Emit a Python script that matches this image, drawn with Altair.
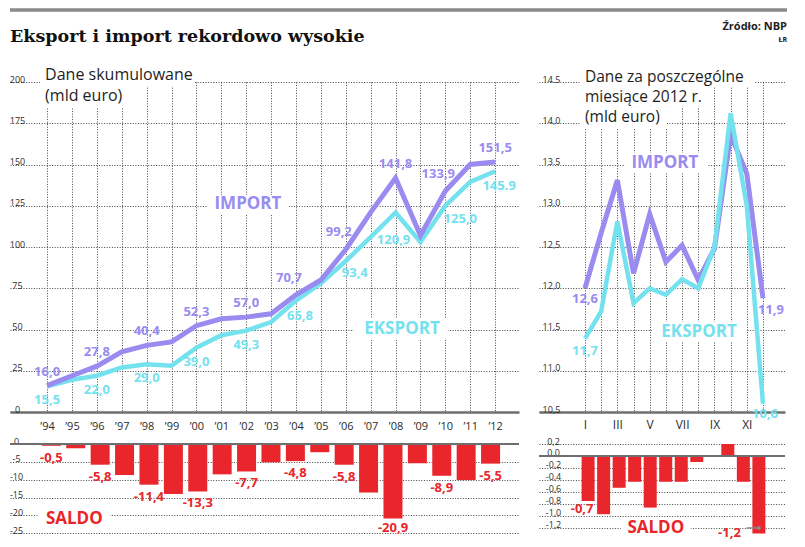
import json
import altair as alt
import pandas as pd

# ---------------- data ----------------
TITLE = "Eksport i import rekordowo wysokie"
SOURCE = "Źródło: NBP"
AUTHOR = "ŁR"
SUB_LEFT = ["Dane skumulowane", "(mld euro)"]
SUB_RIGHT = ["Dane za poszczególne", "miesiące 2012 r.", "(mld euro)"]
SERIES = ["IMPORT", "EKSPORT"]
SALDO_NAME = "SALDO"

YEARS = list(range(1994, 2013))
YEAR_LABELS = ["’94", "’95", "’96", "’97", "’98", "’99", "’00", "’01", "’02", "’03",
               "’04", "’05", "’06", "’07", "’08", "’09", "’10", "’11", "’12"]
IMPORT_CUM = [16.0, 22.0, 27.8, 36.5, 40.4, 42.5, 52.3, 56.5, 57.5, 59.5,
              71.0, 80.0, 98.5, 121.0, 141.8, 107.0, 133.9, 150.0, 151.5]
EXPORT_CUM = [15.5, 19.5, 22.0, 27.0, 29.0, 28.0, 39.0, 46.5, 49.3, 54.5,
              67.5, 78.0, 91.5, 106.0, 120.9, 103.0, 125.0, 139.5, 145.9]
SALDO_CUM = [-0.5, -1.2, -5.8, -8.7, -11.4, -14.0, -13.3, -8.5, -7.7, -5.1,
             -4.8, -2.3, -5.8, -13.6, -20.9, -5.4, -8.9, -10.1, -5.5]
IMPORT_CUM_TXT = ["16,0", None, "27,8", None, "40,4", None, "52,3", None, "57,0", None,
                  "70,7", None, "99,2", None, "141,8", None, "133,9", None, "151,5"]
EXPORT_CUM_TXT = ["15,5", None, "22,0", None, "29,0", None, "39,0", None, "49,3", None,
                  "65,8", None, "93,4", None, "120,9", None, "125,0", None, "145.9"]
SALDO_CUM_TXT = ["-0,5", None, "-5,8", None, "-11,4", None, "-13,3", None, "-7,7", None,
                 "-4,8", None, "-5,8", None, "-20,9", None, "-8,9", None, "-5,5"]

MONTH_NUM = list(range(1, 13))
MONTHS = ["I", "II", "III", "IV", "V", "VI", "VII", "VIII", "IX", "X", "XI", "XII"]
IMPORT_M = [12.0, 12.67, 13.31, 12.18, 12.9, 12.32, 12.52, 12.1, 12.48, 13.86, 13.39, 11.88]
EXPORT_M = [11.39, 11.72, 12.81, 11.82, 12.0, 11.92, 12.11, 12.0, 12.5, 14.12, 13.0, 10.6]
SALDO_M = [-0.75, -0.97, -0.53, -0.43, -0.86, -0.43, -0.43, -0.1, 0.0, 0.2, -0.43, -1.29]
IMPORT_M_TXT = ["12,6"] + [None] * 10 + ["11,9"]
EXPORT_M_TXT = ["11,7"] + [None] * 10 + ["10,6"]
SALDO_M_TXT = ["-0,7"] + [None] * 10 + ["-1,2"]

Y_LEFT_TICKS = [0, 25, 50, 75, 100, 125, 150, 175, 200]
Y_RIGHT_TICKS = [10.5, 11.0, 11.5, 12.0, 12.5, 13.0, 13.5, 14.0, 14.5]
Y_RIGHT_LABELS = ["10,5", "11,0", "11,5", "12,0", "12,5", "13,0", "13.5", "14,0", "14.5"]
SALDO_CUM_TICKS = [0, -5, -10, -15, -20, -25]
SALDO_CUM_LABELS = ["0", "-5", "-10", "-15", "-20", "-25"]
SALDO_M_TICKS = [0.2, 0.0, -0.2, -0.4, -0.6, -0.8, -1.0, -1.2]
SALDO_M_LABELS = ["0,2", "0,0", "-0,2", "-0,4", "-0,6", "-0,8", "-1,0", "-1,2"]

# ---------------- styles ----------------
FONT = "Open Sans"
PURPLE = "#998bef"
CYAN = "#74e1ee"
RED = "#e8262b"
GRIDC = "#474747"
AXISC = "#6e6e6e"
INK = "#2b2b2b"

WL, WR, H, HB = 509, 246, 330, 91

XL = alt.Scale(domain=[1992.51, 2012.96], nice=False, zero=False)
YL = alt.Scale(domain=[0, 200], nice=False, zero=False)
XR = alt.Scale(domain=[-1.84, 13.36], nice=False, zero=False)
YR = alt.Scale(domain=[10.5, 14.5], nice=False, zero=False)
YLB = alt.Scale(domain=[-25.5, 0], nice=False, zero=False)
YRB = alt.Scale(domain=[-1.317, 0.2], nice=False, zero=False)


def js(a):
    return json.dumps(a, ensure_ascii=False)


GRID = dict(grid=True, gridColor=GRIDC, gridDash=[1, 1.6], gridWidth=1)
COMMON = dict(ticks=False, tickSize=0, labelFlush=False, labelOverlap=False, title=None,
              labelFont=FONT, labelColor=INK)

ax_xl = alt.Axis(values=YEARS, domain=True, domainColor=AXISC, domainWidth=2.5, labelPadding=8,
                 labelFontSize=11, labelExpr=f"{js(YEAR_LABELS)}[datum.value - 1994]", **GRID, **COMMON)
ax_yl = alt.Axis(values=Y_LEFT_TICKS, domain=False, labelAlign="center", labelBaseline="alphabetic",
                 labelPadding=-7, labelFontSize=9, **GRID, **COMMON)
ax_xr = alt.Axis(values=MONTH_NUM, domain=True, domainColor=AXISC, domainWidth=2.5, labelPadding=7,
                 labelFontSize=12,
                 labelExpr=f"datum.value % 2 == 1 ? {js(MONTHS)}[datum.value - 1] : ''", **GRID, **COMMON)
ax_yr = alt.Axis(values=Y_RIGHT_TICKS, domain=False, labelAlign="center", labelBaseline="alphabetic",
                 labelPadding=-12, labelFontSize=9,
                 labelExpr=f"{js(Y_RIGHT_LABELS)}[round((datum.value - 10.5) * 2)]", **GRID, **COMMON)
ax_ylb = alt.Axis(values=SALDO_CUM_TICKS, domain=False, labelAlign="center", labelBaseline="alphabetic",
                  labelPadding=-6, labelFontSize=9,
                  labelExpr=f"{js(SALDO_CUM_LABELS)}[round(-datum.value / 5)]", **GRID, **COMMON)
ax_yrb = alt.Axis(values=SALDO_M_TICKS, domain=False, labelAlign="center", labelBaseline="alphabetic",
                  labelPadding=-14, labelFontSize=9,
                  labelExpr=f"{js(SALDO_M_LABELS)}[round((0.2 - datum.value) * 5)]", **GRID, **COMMON)


def xq(f, s, a):
    return alt.X(f, type="quantitative", scale=s, axis=a)


def yq(f, s, a):
    return alt.Y(f, type="quantitative", scale=s, axis=a)


def labels(df, xf, yf, tf, xs, ys, xa, ya, color, flt, dx=0, dy=0, size=13, weight="bold", align="center"):
    c = alt.Chart(df).mark_text(color=color, dx=dx, dy=dy, fontSize=size, fontWeight=weight,
                                font=FONT, align=align, baseline="middle")
    c = c.transform_filter(flt)
    return c.encode(x=xq(xf, xs, xa), y=yq(yf, ys, ya), text=alt.Text(tf, type="nominal"))


def inset(v, lst):
    return f"indexof({js(lst)}, {v}) >= 0"


ONE = pd.DataFrame({"a": [0]})

# ---------------- left: cumulative ----------------
dfL = pd.DataFrame({"year": YEARS, "imp": IMPORT_CUM, "exp": EXPORT_CUM, "saldo": SALDO_CUM,
                    "imp_txt": IMPORT_CUM_TXT, "exp_txt": EXPORT_CUM_TXT, "saldo_txt": SALDO_CUM_TXT})

boxL = pd.DataFrame({"x0": [1993.72, 1993.72, 2000.43, 2006.33],
                     "x1": [1999.9, 1997.1, 2003.72, 2010.1],
                     "y0": [197.6, 184.2, 120.0, 44.2],
                     "y1": [209.7, 197.6, 131.5, 56.4]})
subL = pd.DataFrame({"x": [1993.92, 1993.92], "y": [204.0, 191.5], "t": SUB_LEFT})
impNameL = pd.DataFrame({"x": [2002.07], "y": [126.0], "t": [SERIES[0]]})
expNameL = pd.DataFrame({"x": [2008.26], "y": [50.3], "t": [SERIES[1]]})

LX = lambda f: xq(f, XL, ax_xl)
LY = lambda f: yq(f, YL, ax_yl)

left_lines = alt.layer(
    alt.Chart(boxL).mark_rect(color="white").encode(x=LX("x0"), x2="x1", y=LY("y0"), y2="y1"),
    alt.Chart(dfL).mark_line(color=CYAN, strokeWidth=4.5).encode(x=LX("year"), y=LY("exp")),
    alt.Chart(dfL).mark_line(color=PURPLE, strokeWidth=5).encode(x=LX("year"), y=LY("imp")),
    labels(dfL, "year", "imp", "imp_txt", XL, YL, ax_xl, ax_yl, PURPLE,
           f"datum.imp_txt != null && !({inset('datum.year', [2004, 2006, 2010])})", dy=-14),
    labels(dfL, "year", "imp", "imp_txt", XL, YL, ax_xl, ax_yl, PURPLE,
           f"datum.imp_txt != null && {inset('datum.year', [2004, 2006, 2010])}", dx=-7, dy=-17),
    labels(dfL, "year", "exp", "exp_txt", XL, YL, ax_xl, ax_yl, CYAN,
           f"datum.exp_txt != null && !({inset('datum.year', [2004, 2006, 2008, 2010, 2012])})", dy=14),
    labels(dfL, "year", "exp", "exp_txt", XL, YL, ax_xl, ax_yl, CYAN,
           f"datum.exp_txt != null && {inset('datum.year', [2004, 2012])}", dx=4, dy=15),
    labels(dfL, "year", "exp", "exp_txt", XL, YL, ax_xl, ax_yl, CYAN,
           "datum.exp_txt != null && datum.year == 2006", dx=9, dy=12),
    labels(dfL, "year", "exp", "exp_txt", XL, YL, ax_xl, ax_yl, CYAN,
           "datum.exp_txt != null && datum.year == 2008", dx=-2, dy=27),
    labels(dfL, "year", "exp", "exp_txt", XL, YL, ax_xl, ax_yl, CYAN,
           "datum.exp_txt != null && datum.year == 2010", dx=15, dy=13),
    alt.Chart(subL).mark_text(align="left", baseline="middle", font=FONT, fontSize=16, color="#1e1e1e")
    .encode(x=LX("x"), y=LY("y"), text="t:N"),
    alt.Chart(impNameL).mark_text(align="center", baseline="middle", font=FONT, fontSize=17,
                                  fontWeight="bold", color=PURPLE)
    .encode(x=LX("x"), y=LY("y"), text="t:N"),
    alt.Chart(expNameL).mark_text(align="center", baseline="middle", font=FONT, fontSize=17,
                                  fontWeight="bold", color=CYAN)
    .encode(x=LX("x"), y=LY("y"), text="t:N"),
    alt.Chart(ONE).mark_rule(color="#8a8a8a", strokeWidth=3.5)
    .encode(x=alt.value(0), x2=alt.value(777), y=alt.value(-72)),
    alt.Chart(ONE).mark_text(text=TITLE, align="left", baseline="alphabetic", font="DejaVu Serif",
                             fontWeight="bold", fontSize=17.5, color="#111111")
    .encode(x=alt.value(0), y=alt.value(-40)),
).properties(width=WL, height=H)

LBY = lambda f: yq(f, YLB, ax_ylb)
LBX = lambda f: xq(f, XL, None)
boxLB = pd.DataFrame({"x0": [1993.48], "x1": [1996.4], "y0": [-23.5], "y1": [-18.2]})
saldoNameL = pd.DataFrame({"x": [1994.94], "y": [-20.9], "t": [SALDO_NAME]})
zeroL = pd.DataFrame({"z": [0]})

left_bars = alt.layer(
    alt.Chart(boxLB).mark_rect(color="white").encode(x=LBX("x0"), x2="x1", y=LBY("y0"), y2="y1"),
    alt.Chart(dfL).mark_bar(size=19, color=RED).encode(x=LBX("year"), y=LBY("saldo")),
    alt.Chart(zeroL).mark_rule(color=AXISC, strokeWidth=2).encode(y=LBY("z")),
    labels(dfL, "year", "saldo", "saldo_txt", XL, YLB, None, ax_ylb, RED,
           "datum.saldo_txt != null && datum.year != 2008", dy=12),
    labels(dfL, "year", "saldo", "saldo_txt", XL, YLB, None, ax_ylb, RED,
           "datum.saldo_txt != null && datum.year == 2008", dy=9),
    alt.Chart(saldoNameL).mark_text(align="center", baseline="middle", font=FONT, fontSize=17,
                                    fontWeight="bold", color=RED)
    .encode(x=LBX("x"), y=LBY("y"), text="t:N"),
).properties(width=WL, height=HB)

# ---------------- right: monthly 2012 ----------------
dfR = pd.DataFrame({"m": MONTH_NUM, "imp": IMPORT_M, "exp": EXPORT_M, "saldo": SALDO_M,
                    "imp_txt": IMPORT_M_TXT, "exp_txt": EXPORT_M_TXT, "saldo_txt": SALDO_M_TXT})

boxR = pd.DataFrame({"x0": [0.69, 0.69, 0.69, 3.41, 5.14],
                     "x1": [11.45, 8.79, 6.07, 8.54, 11.01],
                     "y0": [14.44, 14.2, 13.94, 13.4, 11.35],
                     "y1": [14.69, 14.44, 14.2, 13.64, 11.59]})
subR = pd.DataFrame({"x": [1.0, 1.0, 1.0], "y": [14.565, 14.32, 14.075], "t": SUB_RIGHT})
impNameR = pd.DataFrame({"x": [5.94], "y": [13.52], "t": [SERIES[0]]})
expNameR = pd.DataFrame({"x": [8.05], "y": [11.47], "t": [SERIES[1]]})

RX = lambda f: xq(f, XR, ax_xr)
RY = lambda f: yq(f, YR, ax_yr)

right_lines = alt.layer(
    alt.Chart(boxR).mark_rect(color="white").encode(x=RX("x0"), x2="x1", y=RY("y0"), y2="y1"),
    alt.Chart(dfR).mark_line(color=PURPLE, strokeWidth=5).encode(x=RX("m"), y=RY("imp")),
    alt.Chart(dfR).mark_line(color=CYAN, strokeWidth=4.5).encode(x=RX("m"), y=RY("exp")),
    labels(dfR, "m", "imp", "imp_txt", XR, YR, ax_xr, ax_yr, PURPLE,
           "datum.imp_txt != null && datum.m == 1", dy=11),
    labels(dfR, "m", "imp", "imp_txt", XR, YR, ax_xr, ax_yr, PURPLE,
           "datum.imp_txt != null && datum.m == 12", dx=8, dy=12),
    labels(dfR, "m", "exp", "exp_txt", XR, YR, ax_xr, ax_yr, CYAN,
           "datum.exp_txt != null && datum.m == 1", dy=12),
    labels(dfR, "m", "exp", "exp_txt", XR, YR, ax_xr, ax_yr, CYAN,
           "datum.exp_txt != null && datum.m == 12", dx=2, dy=10),
    alt.Chart(subR).mark_text(align="left", baseline="middle", font=FONT, fontSize=15.5, color="#1e1e1e")
    .encode(x=RX("x"), y=RY("y"), text="t:N"),
    alt.Chart(impNameR).mark_text(align="center", baseline="middle", font=FONT, fontSize=17,
                                  fontWeight="bold", color=PURPLE)
    .encode(x=RX("x"), y=RY("y"), text="t:N"),
    alt.Chart(expNameR).mark_text(align="center", baseline="middle", font=FONT, fontSize=17,
                                  fontWeight="bold", color=CYAN)
    .encode(x=RX("x"), y=RY("y"), text="t:N"),
    alt.Chart(ONE).mark_text(text=SOURCE, align="right", baseline="alphabetic", font=FONT,
                             fontWeight="bold", fontSize=11, color="#222222")
    .encode(x=alt.value(248), y=alt.value(-52)),
    alt.Chart(ONE).mark_text(text=AUTHOR, align="right", baseline="alphabetic", font=FONT,
                             fontWeight="bold", fontSize=7, color="#222222")
    .encode(x=alt.value(248), y=alt.value(-40)),
).properties(width=WR, height=H)

RBY = lambda f: yq(f, YRB, ax_yrb)
RBX = lambda f: xq(f, XR, None)
boxRB = pd.DataFrame({"x0": [3.1], "x1": [7.6], "y0": [-1.33], "y1": [-1.03]})
saldoNameR = pd.DataFrame({"x": [5.36], "y": [-1.2], "t": [SALDO_NAME]})
leader = pd.DataFrame({"x0": [11.2], "x1": [12.0], "y": [-1.2]})
leaderEnd = pd.DataFrame({"x": [12.0], "y": [-1.2]})
zeroR = pd.DataFrame({"z": [0]})

right_bars = alt.layer(
    alt.Chart(boxRB).mark_rect(color="white").encode(x=RBX("x0"), x2="x1", y=RBY("y0"), y2="y1"),
    alt.Chart(dfR).mark_bar(size=13, color=RED).encode(x=RBX("m"), y=RBY("saldo")),
    alt.Chart(zeroR).mark_rule(color=AXISC, strokeWidth=2).encode(y=RBY("z")),
    alt.Chart(leader).mark_rule(color="#8a8a8a", strokeWidth=1.5)
    .encode(x=RBX("x0"), x2="x1", y=RBY("y")),
    alt.Chart(leaderEnd).mark_point(color="#8a8a8a", filled=True, size=14, opacity=1)
    .encode(x=RBX("x"), y=RBY("y")),
    labels(dfR, "m", "saldo", "saldo_txt", XR, YRB, None, ax_yrb, RED,
           "datum.saldo_txt != null && datum.m == 1", dx=-6, dy=8),
    labels(dfR, "m", "saldo", "saldo_txt", XR, YRB, None, ax_yrb, RED,
           "datum.saldo_txt != null && datum.m == 12", dx=-18, dy=0, align="right"),
    alt.Chart(saldoNameR).mark_text(align="center", baseline="middle", font=FONT, fontSize=17,
                                    fontWeight="bold", color=RED)
    .encode(x=RBX("x"), y=RBY("y"), text="t:N"),
).properties(width=WR, height=HB)

chart = (
    alt.concat(left_lines, right_lines, left_bars, right_bars, columns=2,
               spacing={"row": 32, "column": 20}, bounds="flush")
    .properties(padding=0, background="white")
    .configure_view(stroke=None)
)

chart.save("out.html", embed_options={"renderer": "svg", "actions": False})
